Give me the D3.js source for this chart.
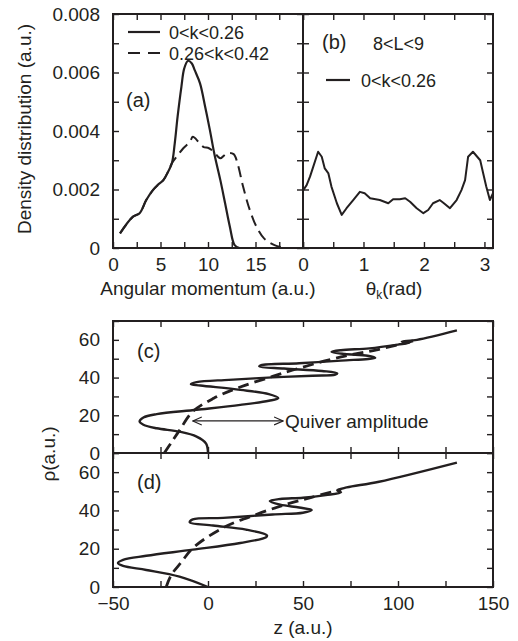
<!DOCTYPE html>
<html>
<head>
<meta charset="utf-8">
<script src="https://cdn.jsdelivr.net/npm/d3@7"></script>
<style>
  body { margin: 0; background: #fff; }
  text { font-family: "Liberation Sans", Arial, sans-serif; font-size: 19px; fill: #231f20; }
</style>
</head>
<body>
<svg width="518" height="641"></svg>
<script>
// (a) density vs angular momentum
const aSolidL = [0.74, 2.1, 2.8, 3.5, 4.2, 4.7, 5.3, 5.8, 6.2, 6.5, 6.8, 7.2, 7.5, 7.9, 8.3, 8.6, 9.16, 9.7, 10.2, 10.7, 11.3, 11.8, 12.3, 12.8, 13.3];
const aSolidD = [0.0005, 0.00107, 0.00119, 0.00164, 0.00198, 0.00215, 0.00232, 0.00261, 0.0029, 0.00358, 0.00449, 0.00551, 0.00614, 0.0064, 0.00631, 0.00608, 0.00563, 0.00483, 0.00403, 0.00317, 0.00232, 0.00153, 0.00073, 0.0001, 0];
const aDashL = [0.74, 2.1, 2.8, 3.5, 4.2, 4.7, 5.3, 5.8, 6.2, 6.7, 7.4, 8.1, 8.4, 9.0, 9.5, 10.1, 10.6, 11.3, 12.0, 12.7, 13.1, 13.7, 14.4, 15.1, 15.9, 17.0, 18.2];
const aDashD = [0.0005, 0.00107, 0.00119, 0.00164, 0.00198, 0.00215, 0.00232, 0.00261, 0.0029, 0.00312, 0.00341, 0.00363, 0.0038, 0.00363, 0.00346, 0.00341, 0.00329, 0.00307, 0.00324, 0.00321, 0.0029, 0.00209, 0.0013, 0.00073, 0.00033, 0.0001, 0];

// (b) density vs theta_k
const bTheta = [0.005, 0.06, 0.116, 0.17, 0.25, 0.31, 0.36, 0.42, 0.47, 0.56, 0.64, 0.72, 0.83, 0.94, 1.02, 1.11, 1.27, 1.41, 1.49, 1.6, 1.69, 1.77, 1.88, 1.99, 2.07, 2.15, 2.26, 2.33, 2.43, 2.54, 2.62, 2.68, 2.73, 2.81, 2.93, 2.98, 3.03, 3.09, 3.14];
const bDens = [0.00198, 0.00215, 0.00244, 0.00278, 0.00329, 0.00312, 0.00272, 0.00255, 0.0021, 0.00153, 0.00113, 0.00136, 0.00164, 0.00192, 0.00187, 0.0017, 0.00164, 0.00153, 0.00167, 0.00167, 0.0017, 0.00158, 0.00136, 0.00119, 0.0013, 0.00153, 0.00164, 0.00153, 0.00136, 0.00164, 0.00198, 0.00232, 0.00312, 0.00329, 0.003, 0.00255, 0.0021, 0.00164, 0.00187];

// (c) trajectory rho vs z
const cSolidZ = [0, -1, -6, -15, -27, -34, -36, -34, -27, -6, 17, 32, 37, 32, 17, -4, -9, -6, 11, 34, 55, 67, 68, 60, 40, 27, 28, 48, 70, 88, 84, 72, 65, 70, 85, 100, 106, 102, 110, 131];
const cSolidRho = [0, 5, 8.7, 11.3, 13.1, 15, 16.7, 18.8, 20.6, 22.9, 25.5, 27.7, 29.1, 31.2, 33.5, 35.8, 36.5, 37.6, 38.8, 40.1, 41, 41.5, 42.3, 43.5, 44.8, 45.9, 46.6, 47.6, 49, 50.5, 51.6, 52.5, 53.6, 54.5, 55.5, 57.5, 58.5, 59, 60, 65];
const cDashZ = [-23, -19, -15, -8, 3, 17, 34, 48, 70, 90, 110];
const cDashRho = [0, 6, 12, 22, 29, 35, 40.6, 45, 51, 55, 60];

// (d) trajectory rho vs z
const dSolidZ = [0, -15, -32.5, -44.7, -47.4, -44.7, -32.5, -8, 17, 30.7, 31, 20, 2.6, -9.6, -8, 8, 34, 50, 54.6, 48, 38, 32.5, 38, 50, 62, 70, 68, 73, 90, 131];
const dSolidRho = [0, 5.4, 8.9, 11, 12.5, 14.2, 16.3, 19.5, 23, 26.1, 27, 30, 32.1, 33.8, 35.3, 36.1, 37.9, 38.8, 40.2, 41.5, 43, 44.9, 46, 46.6, 48, 49.5, 50.5, 52, 55, 65];
const dDashZ = [-22, -19.3, -14, -7.9, 7.9, 25.4, 41.2, 55, 70];
const dDashRho = [0, 6.3, 13, 20.4, 30.9, 37.9, 43.2, 47, 51];

// quiver amplitude arrow in (c)
const arrowZ = [-8, 39.5];
const arrowRho = 17;

// ticks
const densTicks = [0, 0.001, 0.002, 0.003, 0.004, 0.005, 0.006, 0.007, 0.008];
const densLabels = [0, 0.002, 0.004, 0.006, 0.008];
const angTicks = [0, 2.5, 5, 7.5, 10, 12.5, 15, 17.5, 20];
const angLabels = [0, 5, 10, 15];
const thetaTicks = [0, 0.5, 1, 1.5, 2, 2.5, 3];
const thetaLabels = [0, 1, 2, 3];
const zTicks = [-50, -25, 0, 25, 50, 75, 100, 125, 150];
const zLabels = [-50, 0, 50, 100, 150];
const rhoTicks = [0, 10, 20, 30, 40, 50, 60, 70];
const rhoLabels = [0, 20, 40, 60];

const svg = d3.select("svg");
const ink = "#231f20";

const xA = d3.scaleLinear().domain([0, 20]).range([113, 303]);
const yA = d3.scaleLinear().domain([0, 0.008]).range([248, 14]);
const xB = d3.scaleLinear().domain([0, Math.PI]).range([303, 493]);
const xZ = d3.scaleLinear().domain([-50, 150]).range([113, 493]);
const yC = d3.scaleLinear().domain([0, 70]).range([453, 321]);
const yD = d3.scaleLinear().domain([0, 70]).range([587, 453]);

function axis(gen, scale, tx, ty, vals, labels, fmt, pad) {
    const ax = gen(scale)
        .tickValues(vals)
        .tickSize(-6)
        .tickSizeOuter(0)
        .tickPadding(pad || 10)
        .tickFormat(d => labels.includes(d) ? fmt(d) : "");
    const g = svg.append("g")
        .attr("transform", `translate(${tx},${ty})`)
        .call(ax);
    g.select(".domain").remove();
    g.selectAll("line").attr("stroke", ink).attr("stroke-width", 1.4);
    return g;
}

const fmtDens = d => d === 0 ? "0" : d3.format(".3f")(d);
const fmtNum = d => d3.format("d")(d);
const none = [];

// (a)/(b) axes
axis(d3.axisLeft, yA, 113, 0, densTicks, densLabels, fmtDens, 13);
axis(d3.axisRight, yA, 303, 0, densTicks, none, fmtDens);
axis(d3.axisLeft, yA, 303, 0, densTicks, none, fmtDens);
axis(d3.axisRight, yA, 493, 0, densTicks, none, fmtDens);
axis(d3.axisBottom, xA, 0, 248, angTicks, angLabels, fmtNum, 10);
axis(d3.axisTop, xA, 0, 14, angTicks, none, fmtNum);
axis(d3.axisBottom, xB, 0, 248, thetaTicks, thetaLabels, fmtNum, 10);
axis(d3.axisTop, xB, 0, 14, thetaTicks, none, fmtNum);

// (c)/(d) axes
axis(d3.axisLeft, yC, 113, 0, rhoTicks, rhoLabels, fmtNum, 13);
axis(d3.axisRight, yC, 493, 0, rhoTicks, none, fmtNum);
axis(d3.axisLeft, yD, 113, 0, rhoTicks, rhoLabels, fmtNum, 13);
axis(d3.axisRight, yD, 493, 0, rhoTicks, none, fmtNum);
axis(d3.axisTop, xZ, 0, 321, zTicks, none, fmtNum);
axis(d3.axisBottom, xZ, 0, 453, zTicks, none, fmtNum);
axis(d3.axisTop, xZ, 0, 453, zTicks, none, fmtNum);
axis(d3.axisBottom, xZ, 0, 587, zTicks, zLabels, d3.format(""), 10);

// frames
const frames = [[113, 14, 380, 234], [113, 321, 380, 266]];
frames.forEach(f => svg.append("rect")
    .attr("x", f[0]).attr("y", f[1]).attr("width", f[2]).attr("height", f[3])
    .attr("fill", "none").attr("stroke", ink).attr("stroke-width", 2));
svg.append("line").attr("x1", 303).attr("x2", 303).attr("y1", 14).attr("y2", 248)
    .attr("stroke", ink).attr("stroke-width", 2);
svg.append("line").attr("x1", 113).attr("x2", 493).attr("y1", 453).attr("y2", 453)
    .attr("stroke", ink).attr("stroke-width", 2);

// curves
function curve(xs, ys, x, y, width, dash, shape) {
    const line = d3.line()
        .x(d => x(d[0]))
        .y(d => y(d[1]))
        .curve(shape || d3.curveCatmullRom);
    svg.append("path")
        .attr("d", line(d3.zip(xs, ys)))
        .attr("fill", "none")
        .attr("stroke", ink)
        .attr("stroke-width", width)
        .attr("stroke-dasharray", dash)
        .attr("stroke-linejoin", "round");
}

curve(aDashL, aDashD, xA, yA, 2, "11,6");
curve(aSolidL, aSolidD, xA, yA, 2.2, null);
curve(bTheta, bDens, xB, yA, 2, null, d3.curveLinear);
curve(cDashZ, cDashRho, xZ, yC, 2.8, "11,6");
curve(cSolidZ, cSolidRho, xZ, yC, 2.4, null);
curve(dDashZ, dDashRho, xZ, yD, 2.8, "11,6");
curve(dSolidZ, dSolidRho, xZ, yD, 2.4, null);

// arrow
svg.append("defs").append("marker")
    .attr("id", "chev")
    .attr("viewBox", "0 0 10 10")
    .attr("refX", 9).attr("refY", 5)
    .attr("markerWidth", 10).attr("markerHeight", 10)
    .attr("markerUnits", "userSpaceOnUse")
    .attr("orient", "auto-start-reverse")
    .append("path")
    .attr("d", "M0,1 L9,5 L0,9")
    .attr("fill", "none").attr("stroke", ink).attr("stroke-width", 1.2);
svg.append("line")
    .attr("x1", xZ(arrowZ[0])).attr("x2", xZ(arrowZ[1]))
    .attr("y1", yC(arrowRho)).attr("y2", yC(arrowRho))
    .attr("stroke", ink).attr("stroke-width", 1.2)
    .attr("marker-start", "url(#chev)").attr("marker-end", "url(#chev)");
svg.append("text").attr("x", xZ(arrowZ[1]) + 2).attr("y", yC(arrowRho) + 7).text("Quiver amplitude");

// legends and panel tags
svg.append("line").attr("x1", 128).attr("x2", 160).attr("y1", 32).attr("y2", 32)
    .attr("stroke", ink).attr("stroke-width", 2.2);
svg.append("text").attr("x", 169).attr("y", 39).style("font-size", "18px").text("0<k<0.26");
svg.append("line").attr("x1", 128).attr("x2", 160).attr("y1", 53).attr("y2", 53)
    .attr("stroke", ink).attr("stroke-width", 2).attr("stroke-dasharray", "12,8");
svg.append("text").attr("x", 169).attr("y", 60).style("font-size", "18px").text("0.26<k<0.42");
svg.append("text").attr("x", 126).attr("y", 107).style("font-size", "20px").text("(a)");

svg.append("text").attr("x", 322).attr("y", 49).style("font-size", "20px").text("(b)");
svg.append("text").attr("x", 373).attr("y", 50).style("font-size", "18px").text("8<L<9");
svg.append("line").attr("x1", 326).attr("x2", 350).attr("y1", 80).attr("y2", 80)
    .attr("stroke", ink).attr("stroke-width", 2.2);
svg.append("text").attr("x", 361).attr("y", 87).style("font-size", "18px").text("0<k<0.26");

svg.append("text").attr("x", 137).attr("y", 358).style("font-size", "20px").text("(c)");
svg.append("text").attr("x", 137).attr("y", 489).style("font-size", "20px").text("(d)");

// axis titles
svg.append("text").attr("transform", "translate(31,129) rotate(-90)")
    .attr("text-anchor", "middle").text("Density distribution (a.u.)");
svg.append("text").attr("x", 208).attr("y", 295).attr("text-anchor", "middle")
    .text("Angular momentum (a.u.)");
const th = svg.append("text").attr("x", 394).attr("y", 295).attr("text-anchor", "middle");
th.append("tspan").text("θ");
th.append("tspan").attr("dy", 4).style("font-size", "12px").text("k");
th.append("tspan").attr("dy", -4).text("(rad)");
svg.append("text").attr("transform", "translate(55,454) rotate(-90)")
    .attr("text-anchor", "middle").text("ρ(a.u.)");
svg.append("text").attr("x", 303).attr("y", 634).attr("text-anchor", "middle").text("z (a.u.)");
</script>
</body>
</html>
